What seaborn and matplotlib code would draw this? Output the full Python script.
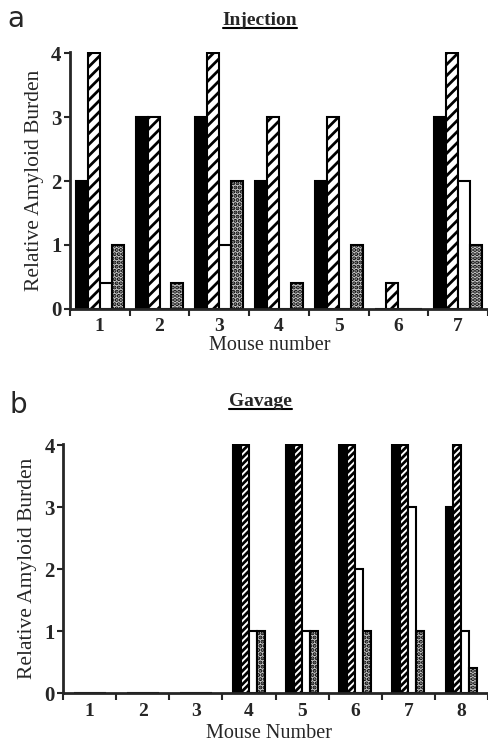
import numpy as np
import pandas as pd
import matplotlib
matplotlib.use('Agg')
import matplotlib.pyplot as plt
from matplotlib.lines import Line2D
import seaborn as sns

# panel a - injection
mice_a = ['1', '2', '3', '4', '5', '6', '7']
inj_black = [2, 3, 3, 2, 2, 0, 3]
inj_hatched = [4, 3, 4, 3, 3, 0.4, 4]
inj_white = [0.4, 0, 1, 0, 0, 0, 2]
inj_stipple = [1, 0.4, 2, 0.4, 1, 0, 1]

# panel b - gavage
mice_b = ['1', '2', '3', '4', '5', '6', '7', '8']
gav_black = [0, 0, 0, 4, 4, 4, 4, 3]
gav_hatched = [0, 0, 0, 4, 4, 4, 4, 4]
gav_white = [0, 0, 0, 1, 1, 2, 3, 1]
gav_stipple = [0, 0, 0, 1, 1, 1, 1, 0.4]

series = ['black', 'hatched', 'white', 'stipple']

sns.set_style('ticks')
plt.rcParams['font.family'] = ['Liberation Serif', 'DejaVu Serif']
plt.rcParams['hatch.linewidth'] = 2.0


def make_df(mice, cols):
    df = pd.DataFrame({'mouse': mice})
    for name, vals in zip(series, cols):
        df[name] = vals
    return df.melt(id_vars='mouse', var_name='series', value_name='burden')


def style_bars(ax, dense=False):
    styles = {
        'black': dict(facecolor='black', hatch=None),
        'hatched': dict(facecolor='white', hatch='/////' if dense else '///'),
        'white': dict(facecolor='white', hatch=None),
        'stipple': dict(facecolor='#c8c8c8', hatch='....'),
    }
    for cont, name in zip(ax.containers, series):
        for p in cont.patches:
            p.set_facecolor(styles[name]['facecolor'])
            p.set_edgecolor('black')
            p.set_linewidth(1.5)
            if styles[name]['hatch']:
                p.set_hatch(styles[name]['hatch'])


def setup_axis(ax, n, xlabel, xlab_y, xlab_x):
    ax.set_xlim(-0.5, n - 0.5)
    ax.set_ylim(0, 4.02)
    ax.set_yticks([0, 1, 2, 3, 4])
    ax.set_yticklabels(['0', '1', '2', '3', '4'], fontweight='bold', fontsize=15)
    ax.set_xticks(range(n))
    ax.set_xticklabels([str(i + 1) for i in range(n)], fontweight='bold', fontsize=14)
    ax.set_xticks(np.arange(n + 1) - 0.5, minor=True)
    ax.tick_params(axis='x', which='major', length=0, pad=7)
    ax.tick_params(axis='x', which='minor', length=5, width=1.5, direction='out')
    ax.tick_params(axis='y', length=4, width=1.5, direction='out', pad=2)
    sns.despine(ax=ax)
    ax.spines['left'].set_linewidth(2)
    ax.spines['bottom'].set_linewidth(2)
    ax.set_xlabel(xlabel, fontsize=14.5)
    ax.xaxis.set_label_coords(xlab_x, xlab_y)
    ax.set_ylabel('Relative Amyloid Burden', fontsize=15.5, labelpad=5)


fig = plt.figure(figsize=(4.89, 7.44), dpi=100)

ax1 = fig.add_axes([0.143, 0.585, 0.855, 0.345])
sns.barplot(data=make_df(mice_a, [inj_black, inj_hatched, inj_white, inj_stipple]),
            x='mouse', y='burden', hue='series', hue_order=series,
            width=0.8, legend=False, ax=ax1)
style_bars(ax1)
setup_axis(ax1, len(mice_a), 'Mouse number', -0.105, 0.478)

ax2 = fig.add_axes([0.129, 0.0685, 0.869, 0.335])
sns.barplot(data=make_df(mice_b, [gav_black, gav_hatched, gav_white, gav_stipple]),
            x='mouse', y='burden', hue='series', hue_order=series,
            width=0.6, legend=False, ax=ax2)
style_bars(ax2, dense=True)
setup_axis(ax2, len(mice_b), 'Mouse Number', -0.125, 0.485)

titles = [fig.text(0.532, 0.972, 'Injection', ha='center', va='center',
                   fontsize=14, fontweight='bold'),
          fig.text(0.532, 0.46, 'Gavage', ha='center', va='center',
                   fontsize=14, fontweight='bold')]
fig.text(0.015, 0.975, 'a', family='DejaVu Sans', fontsize=20, va='center')
fig.text(0.02, 0.455, 'b', family='DejaVu Sans', fontsize=20, va='center')

# underline the titles
fig.canvas.draw()
inv = fig.transFigure.inverted()
for t in titles:
    bb = t.get_window_extent().transformed(inv)
    fig.add_artist(Line2D([bb.x0, bb.x1], [bb.y0 + 0.002, bb.y0 + 0.002],
                          transform=fig.transFigure, color='black', lw=1.5))

fig.savefig('out.png', dpi=100)
